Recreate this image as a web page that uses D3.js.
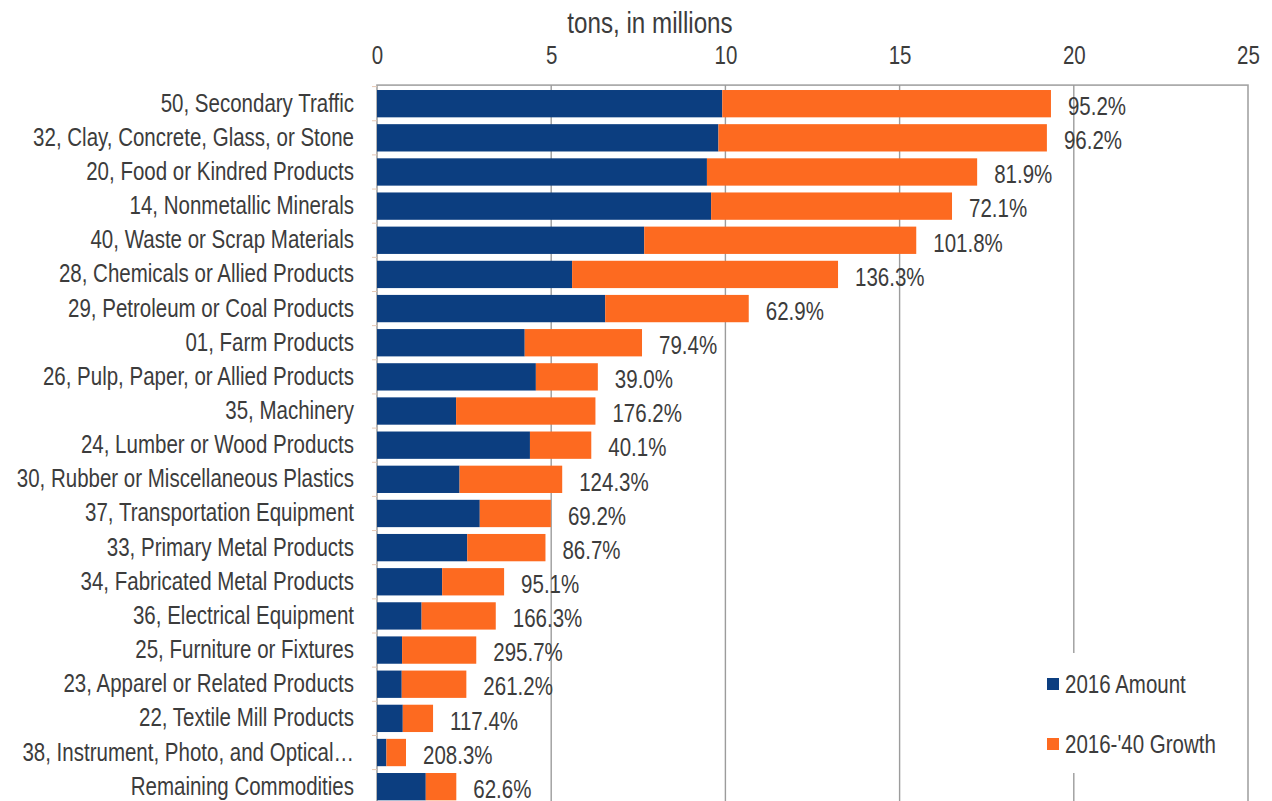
<!DOCTYPE html>
<html>
<head>
<meta charset="utf-8">
<script src="https://cdn.jsdelivr.net/npm/d3@7"></script>
<style>
  html, body { margin: 0; padding: 0; background: #fff; }
  svg { display: block; }
  text { font-family: "Liberation Sans", Arial, sans-serif; fill: #3c3c3c; }
</style>
</head>
<body>
<svg id="chart" width="1272" height="801"></svg>
<script>
// Commodity groups, top to bottom
const commodities = [
  "50, Secondary Traffic",
  "32, Clay, Concrete, Glass, or Stone",
  "20, Food or Kindred Products",
  "14, Nonmetallic Minerals",
  "40, Waste or Scrap Materials",
  "28, Chemicals or Allied Products",
  "29, Petroleum or Coal Products",
  "01, Farm Products",
  "26, Pulp, Paper, or Allied Products",
  "35, Machinery",
  "24, Lumber or Wood Products",
  "30, Rubber or Miscellaneous Plastics",
  "37, Transportation Equipment",
  "33, Primary Metal Products",
  "34, Fabricated Metal Products",
  "36, Electrical Equipment",
  "25, Furniture or Fixtures",
  "23, Apparel or Related Products",
  "22, Textile Mill Products",
  "38, Instrument, Photo, and Optical\u2026",
  "Remaining Commodities"
];

// 2016 tonnage, millions of tons
const amount2016 = [9.91, 9.80, 9.47, 9.59, 7.67, 5.60, 6.55, 4.24, 4.56, 2.27, 4.39,
                    2.37, 2.95, 2.59, 1.87, 1.28, 0.72, 0.71, 0.74, 0.27, 1.40];

// Growth from 2016 to 2040, percent of the 2016 amount
const growthPct = [95.2, 96.2, 81.9, 72.1, 101.8, 136.3, 62.9, 79.4, 39.0, 176.2, 40.1,
                   124.3, 69.2, 86.7, 95.1, 166.3, 295.7, 261.2, 117.4, 208.3, 62.6];

const xTicks = [0, 5, 10, 15, 20, 25];
const seriesNames = ["2016 Amount", "2016-'40 Growth"];
const seriesColors = ["#0c3e80", "#fd6a20"];

const rows = commodities.map((name, i) => ({
  name,
  base: amount2016[i],
  growth: amount2016[i] * growthPct[i] / 100,
  pct: growthPct[i]
}));

// Condensed lettering: squeeze each text horizontally about its own anchor point
const SQUEEZE = 0.82;
function narrow(sel) {
  sel.each(function () {
    const t = d3.select(this);
    const tx = +t.attr("x") || 0;
    const ty = +t.attr("y") || 0;
    t.attr("x", 0).attr("y", 0)
     .attr("transform", `translate(${tx},${ty}) scale(${SQUEEZE},1)`);
  });
}

const svg = d3.select("#chart");

const plotLeft = 377, plotRight = 1248, plotTop = 86.6;
const step = 34.15;

const x = d3.scaleLinear().domain([0, 25]).range([plotLeft, plotRight]);
const y = d3.scaleBand()
  .domain(commodities)
  .range([plotTop, plotTop + step * commodities.length])
  .paddingInner(0.2)
  .paddingOuter(0.1);

// Plot frame
svg.append("rect")
  .attr("x", plotLeft).attr("y", plotTop - 1.5)
  .attr("width", plotRight - plotLeft).attr("height", 801)
  .attr("fill", "none").attr("stroke", "#a3a3a3").attr("stroke-width", 1.6);

// Vertical gridlines
svg.append("g").selectAll("line")
  .data(xTicks.filter(t => t > 0 && t < 25))
  .join("line")
  .attr("x1", d => x(d)).attr("x2", d => x(d))
  .attr("y1", plotTop - 1.5).attr("y2", 801)
  .attr("stroke", "#9c9c9c").attr("stroke-width", 1.4);

// Category tick marks
svg.append("g").selectAll("line")
  .data(commodities)
  .join("line")
  .attr("x1", plotLeft - 5).attr("x2", plotLeft)
  .attr("y1", d => y(d) - y.step() * y.paddingInner() / 2)
  .attr("y2", d => y(d) - y.step() * y.paddingInner() / 2)
  .attr("stroke", "#e6c8b4").attr("stroke-width", 1);

// Stacked bars
const stack = d3.stack().keys(["base", "growth"]);
const layers = stack(rows);

svg.append("g").selectAll("g")
  .data(layers)
  .join("g")
  .attr("fill", (d, i) => seriesColors[i])
  .selectAll("rect")
  .data(d => d)
  .join("rect")
  .attr("x", d => x(d[0]))
  .attr("width", d => x(d[1]) - x(d[0]))
  .attr("y", d => y(d.data.name))
  .attr("height", y.bandwidth());

// Growth labels at bar ends
svg.append("g").selectAll("text")
  .data(rows)
  .join("text")
  .attr("x", d => x(d.base + d.growth) + 17)
  .attr("y", d => y(d.name) + y.bandwidth() / 2 + 2.5)
  .attr("dy", "0.35em")
  .attr("font-size", 25)
  .text(d => d.pct.toFixed(1) + "%")
  .call(narrow);

// Top value axis
const xAxis = svg.append("g")
  .attr("transform", `translate(0,${plotTop - 1.5})`)
  .call(d3.axisTop(x).tickValues(xTicks).tickSize(0).tickPadding(21).tickFormat(d3.format("d")));
xAxis.select(".domain").remove();
xAxis.selectAll("text").attr("font-size", 25).attr("font-family", null).style("fill", "#3c3c3c").call(narrow);

// Category axis
const yAxis = svg.append("g")
  .attr("transform", `translate(${plotLeft},0)`)
  .call(d3.axisLeft(y).tickSize(0).tickPadding(23));
yAxis.select(".domain").remove();
yAxis.selectAll("text").attr("font-size", 25).attr("font-family", null).style("fill", "#3c3c3c").call(narrow);

// Axis title
svg.append("text")
  .attr("x", 650).attr("y", 23)
  .attr("dy", "0.35em")
  .attr("text-anchor", "middle")
  .attr("font-size", 29.5)
  .text("tons, in millions")
  .call(narrow);

// Legend
const legend = svg.append("g");
legend.append("rect")
  .attr("x", 1034).attr("y", 653)
  .attr("width", 204).attr("height", 120)
  .attr("fill", "#fff");
const items = legend.selectAll("g.item")
  .data(seriesNames)
  .join("g")
  .attr("class", "item")
  .attr("transform", (d, i) => `translate(1047,${684 + i * 60})`);
items.append("rect")
  .attr("x", 0).attr("y", -6)
  .attr("width", 12).attr("height", 12)
  .attr("fill", (d, i) => seriesColors[i]);
items.append("text")
  .attr("x", 18).attr("y", 0)
  .attr("dy", "0.35em")
  .attr("font-size", 25)
  .text(d => d)
  .call(narrow);
</script>
</body>
</html>
